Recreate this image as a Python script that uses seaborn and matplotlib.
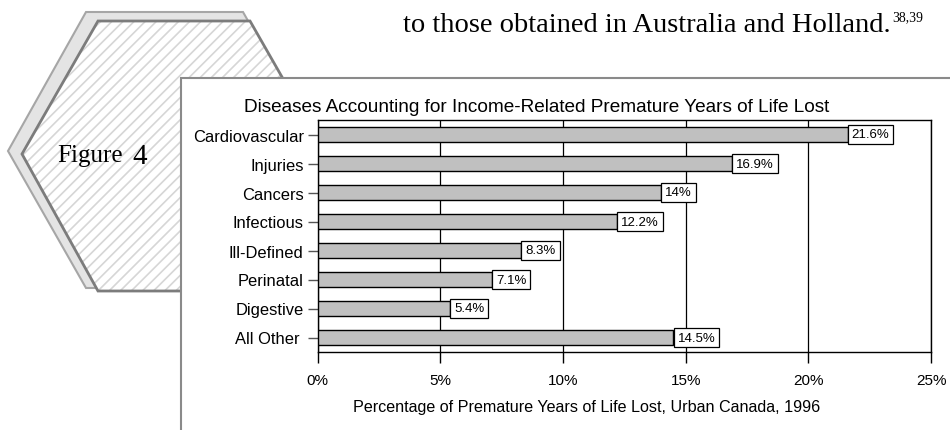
import numpy as np
import pandas as pd
import matplotlib
matplotlib.use('Agg')
import matplotlib.pyplot as plt
import seaborn as sns
from matplotlib.patches import Polygon, Rectangle

# data
categories = ['Cardiovascular', 'Injuries', 'Cancers', 'Infectious',
              'Ill-Defined', 'Perinatal', 'Digestive', 'All Other ']
percent = [21.6, 16.9, 14.0, 12.2, 8.3, 7.1, 5.4, 14.5]
xticks = [0, 5, 10, 15, 20, 25]

title = 'Diseases Accounting for Income-Related Premature Years of Life Lost'
xlabel = 'Percentage of Premature Years of Life Lost, Urban Canada, 1996'
body_text = 'to those obtained in Australia and Holland.'
body_refs = '38,39'

sns.set_theme(style='white')
plt.rcParams['font.family'] = ['Liberation Sans', 'DejaVu Sans']
plt.rcParams['hatch.linewidth'] = 1.2

df = pd.DataFrame({'disease': categories, 'pct': percent})

fig = plt.figure(figsize=(9.5, 4.31), dpi=100)

# ==========================================================================
# page decoration, drawn in pixel coordinates
bg = fig.add_axes([0, 0, 1, 1])
bg.set_xlim(0, 950)
bg.set_ylim(431, 0)
bg.axis('off')

serif = ['Liberation Serif', 'DejaVu Serif']
hex_pts = [(98, 22), (250, 22), (326, 155), (250, 292), (98, 292), (22, 155)]

bg.add_patch(Polygon([(86, 13), (243, 13), (322, 152), (243, 289), (86, 289), (8, 152)],
                     closed=True, facecolor='#e4e4e4', edgecolor='#a6a6a6', lw=1.5))
bg.add_patch(Polygon(hex_pts, closed=True, facecolor='white', edgecolor='#d6d6d6',
                     lw=0, hatch='///'))
bg.add_patch(Polygon(hex_pts, closed=True, fill=False, edgecolor='#7c7c7c', lw=2))

bg.text(57, 162, 'Figure', family=serif, fontsize=18, ha='left', va='baseline', color='black')
bg.text(132, 164, '4', family=serif, fontsize=21, ha='left', va='baseline', color='black')

bg.text(403, 32, body_text, family=serif, fontsize=20.5, ha='left', va='baseline', color='black')
bg.text(892, 21, body_refs, family=serif, fontsize=10, ha='left', va='baseline', color='black')

# chart panel
bg.add_patch(Rectangle((181, 79), 800, 400, facecolor='white', edgecolor='#8a8a8a', lw=1.5))

bg.text(244, 108, title, fontsize=13.7, ha='left', va='center', color='black')

# ==========================================================================
# the bar chart
ax = fig.add_axes([317.6 / 950, 1 - 353 / 431, (931 - 317.6) / 950, (353 - 121) / 431])
sns.barplot(data=df, x='pct', y='disease', orient='h', color='#c0c0c0',
            saturation=1, edgecolor='black', linewidth=1, width=0.5, ax=ax, zorder=3)

ax.set_xlim(0, 25)
ax.set_ylim(7.5, -0.5)
ax.set_xticks(xticks)
ax.set_xticklabels(['%d%%' % t for t in xticks])
ax.set_axisbelow(True)
ax.xaxis.grid(True, color='black', lw=0.9)
ax.yaxis.grid(False)
for s in ax.spines.values():
    s.set_visible(True)
    s.set_color('black')
    s.set_linewidth(1)

ax.tick_params(axis='x', direction='out', length=8, width=1, color='black',
               labelsize=11, pad=7, bottom=True)
ax.tick_params(axis='y', direction='out', length=7, width=1, color='#555555',
               labelsize=11.9, pad=3, left=True)
ax.set_xlabel(xlabel, fontsize=11.6, color='black')
ax.xaxis.set_label_coords((587 - 317.6) / 613.4, -0.204)
ax.set_ylabel('')
for lab in ax.get_xticklabels() + ax.get_yticklabels():
    lab.set_color('black')

for i, v in enumerate(percent):
    ax.annotate('%g%%' % v, xy=(v, i), xytext=(3.0, 0), textcoords='offset points',
                ha='left', va='center', fontsize=9.5, color='black', zorder=5,
                bbox=dict(boxstyle='square,pad=0.3', facecolor='white',
                          edgecolor='black', lw=0.9))

plt.savefig('out.png', dpi=100)
plt.close(fig)
